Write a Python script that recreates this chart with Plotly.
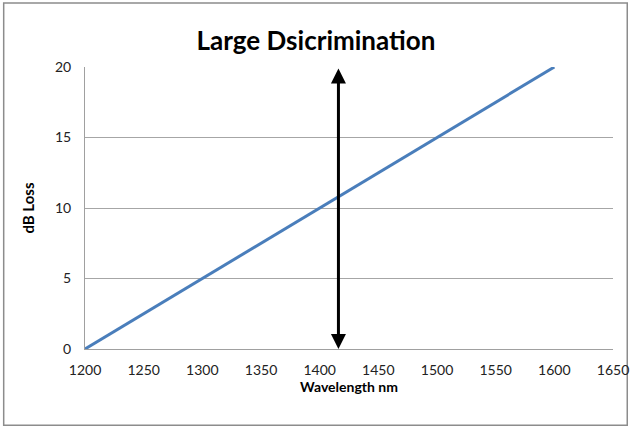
import plotly.graph_objects as go

# data
wavelength = [1200, 1600]
db_loss = [0, 20]
arrow_x = 1416
arrow_span = [0, 20]

x_ticks = list(range(1200, 1651, 50))
y_ticks = [0, 5, 10, 15, 20]

fig = go.Figure()
fig.add_trace(go.Scatter(
    x=wavelength, y=db_loss, mode="lines",
    line=dict(color="#4A7EBB", width=3), showlegend=False
))

# double-headed arrow
fig.add_annotation(
    x=arrow_x, y=arrow_span[0], ax=arrow_x, ay=arrow_span[1],
    xref="x", yref="y", axref="x", ayref="y",
    text="", showarrow=True, arrowhead=2, startarrowhead=2,
    arrowside="end+start", arrowwidth=3, arrowsize=1, startarrowsize=1,
    arrowcolor="black"
)

# outer chart border
fig.add_shape(
    type="rect", xref="paper", yref="paper",
    x0=-0.154, x1=1.027, y0=-0.270, y1=1.227,
    line=dict(color="#8C8C8C", width=1.5), layer="below"
)

fig.update_layout(
    width=632, height=428,
    margin=dict(l=85, r=19, t=67, b=79),
    paper_bgcolor="white", plot_bgcolor="white",
    font=dict(family="Lato, Open Sans, sans-serif", size=14, color="#222222"),
    title=dict(text="<b>Large Dsicrimination</b>", x=0.5, xanchor="center",
               y=0.905, yanchor="middle",
               font=dict(size=26, color="black")),
    xaxis=dict(
        range=[1200, 1650], tickvals=x_ticks, showgrid=False, automargin=False,
        showline=True, linecolor="#A0A0A0", linewidth=1, zeroline=False,
        ticks="", ticklabelstandoff=8,
        title=dict(text="<b>Wavelength nm</b>", font=dict(size=14, color="black"), standoff=0)
    ),
    yaxis=dict(
        range=[0, 20], tickvals=y_ticks, showgrid=True, gridcolor="#A6A6A6", gridwidth=1,
        showline=True, linecolor="#A0A0A0", linewidth=1, zeroline=False, automargin=False,
        ticks="", ticklabelstandoff=10,
        title=dict(text="<b>dB Loss</b>", font=dict(size=15, color="black"), standoff=16)
    ),
)

fig.write_html("out.html", config={"displayModeBar": False},
               post_script="document.body.style.margin='0';")
